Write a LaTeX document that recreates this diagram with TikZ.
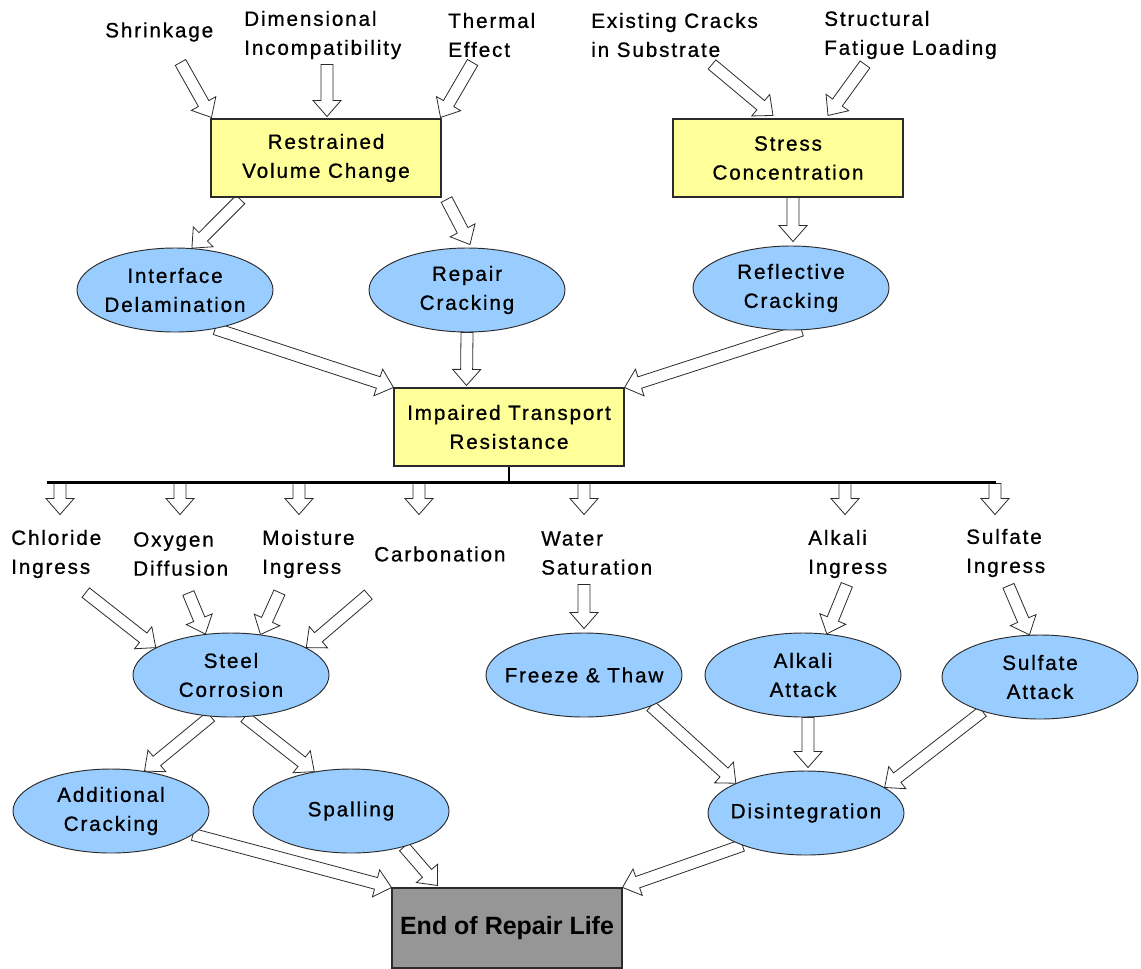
\documentclass[tikz,border=0pt]{standalone}
\usepackage{fontspec}
\setmainfont{Liberation Sans}[LetterSpace=9, FakeBold=0.8]
\newfontfamily\endfont{Liberation Sans}
\usetikzlibrary{positioning,calc,shapes.geometric}
\definecolor{boxYellow}{HTML}{FFFF99}
\definecolor{ellBlue}{HTML}{99CCFF}
\definecolor{endGray}{HTML}{969696}
\definecolor{lineInk}{HTML}{2B2B2B}
\pgfdeclarelayer{back}
\pgfsetlayers{back,main}

% hollow block arrow: tail, tip
\newcommand{\harrow}[2]{%
  \coordinate (ha-t) at #1;
  \coordinate (ha-p) at #2;
  \coordinate (ha-b) at ($(ha-p)!12pt!(ha-t)$);
  \draw[harrowline] ($(ha-t)!4.5pt!90:(ha-p)$) -- ($(ha-b)!4.5pt!90:(ha-p)$)
    -- ($(ha-b)!10.5pt!90:(ha-p)$) -- (ha-p) -- ($(ha-b)!10.5pt!-90:(ha-p)$)
    -- ($(ha-b)!4.5pt!-90:(ha-p)$) -- ($(ha-t)!4.5pt!-90:(ha-p)$) -- cycle;}

\begin{document}
\begin{tikzpicture}[x=0.75pt, y=-0.75pt,
          cause/.style={anchor=west, align=left, inner sep=0pt, font=\fontsize{15.5}{21.75}\selectfont},
          box/.style={draw=lineInk, line width=0.8pt, fill=boxYellow, minimum width=172.5pt, minimum height=58.5pt, align=center, font=\fontsize{15.5}{21.75}\selectfont, execute at begin node={\rule{0pt}{18pt}}},
          ell/.style={ellipse, draw=lineInk, line width=0.7pt, fill=ellBlue, minimum width=147pt, minimum height=63pt, inner xsep=-12pt, inner ysep=-6pt, align=center, font=\fontsize{15.5}{21.75}\selectfont},
          endbox/.style={draw=lineInk, line width=0.8pt, fill=endGray, minimum width=172.5pt, minimum height=60pt, font=\endfont\bfseries\fontsize{18.75}{22}\selectfont},
          harrowline/.style={draw=lineInk, fill=white, line width=0.6pt, line join=miter},
          bus/.style={draw=black, line width=2.2pt}]
        \useasboundingbox (0,0) rectangle (1141,968);
        % causes, top row
        \node[cause] (shr) at (105,32) {Shrinkage};
        \node[cause] (dim) at (244,35) {Dimensional\\Incompatibility};
        \node[cause] (thm) at (448,35) {Thermal\\Effect};
        \node[cause] (exc) at (591,35) {Existing Cracks\\in Substrate};
        \node[cause] (sfl) at (824,35) {Structural\\Fatigue Loading};
        \node[box] (rvc) at (326,158) {Restrained\\Volume Change};
        \node[box] (sc) at (788,158) {Stress\\Concentration};
        \node[ell] (il) at (175,290) {Interface\\Delamination};
        \node[ell] (rc) at (467,290) {Repair\\Cracking};
        \node[ell] (rfc) at (791,288) {Reflective\\Cracking};
        \node[box] (itr) at (509,427) {Impaired Transport\\Resistance};
        % causes, bottom row
        \node[cause] (chl) at (11,554) {Chloride\\Ingress};
        \node[cause] (oxy) at (133,554) {Oxygen\\Diffusion};
        \node[cause] (moi) at (262,554) {Moisture\\Ingress};
        \node[cause] (car) at (374,554) {Carbonation};
        \node[cause] (wat) at (541,553) {Water\\Saturation};
        \node[cause] (alk) at (808,554) {Alkali\\Ingress};
        \node[cause] (sul) at (966,553) {Sulfate\\Ingress};
        \node[ell] (stc) at (231,675) {Steel\\Corrosion};
        \node[ell] (ft) at (584,675) {Freeze \& Thaw};
        \node[ell] (aa) at (803,675) {Alkali\\Attack};
        \node[ell] (sa) at (1040,677) {Sulfate\\Attack};
        \node[ell] (ac) at (111,811) {Additional\\Cracking};
        \node[ell] (sp) at (351,811) {Spalling};
        \node[ell] (dis) at (806,813) {Disintegration};
        \node[endbox] (end) at (507,928) {End of Repair Life};
        \coordinate (bus) at ($(itr.south)+(0,16)$);
        \draw[line width=1.5pt] (itr.south) -- (bus);
        \draw[bus] (bus -| 47,0) -- (bus -| 996,0);
        \begin{pgfonlayer}{back}
        \harrow{($(rvc.north west)+(-30,-56)$)}{($(rvc.north west)+(1,-1)$)}
        \harrow{($(rvc.north)+(1,-54)$)}{($(rvc.north)+(1,-2)$)}
        \harrow{($(rvc.north east)+(31,-56)$)}{($(rvc.north east)+(-1,-1)$)}
        \harrow{($(sc.north)+(-76,-54)$)}{($(sc.north)+(-15,-3)$)}
        \harrow{($(sc.north)+(77,-54)$)}{($(sc.north)+(40,-3)$)}
        \harrow{($(rvc.south west)+(30,2)$)}{(il.68)}
        \harrow{($(rvc.south east)+(5,2)$)}{($(rc.north)+(3,-3)$)}
        \harrow{($(sc.south)+(5,0)$)}{($(rfc.north)+(2,-4)$)}
        \harrow{(il.-44)}{(itr.north west)}
        \harrow{(rc.south)}{($(itr.north west)+(73,-2)$)}
        \harrow{(rfc.-76)}{(itr.north east)}
        \foreach \bx in {60,180,299,419,584,845,995}
          \harrow{($(\bx,0 |- bus)+(0,1)$)}{($(\bx,0 |- bus)+(0,32)$)};
        \harrow{($(stc.160)+(-70,-55)$)}{(stc.160)}
        \harrow{($(stc.122)+(-17,-41)$)}{(stc.122)}
        \harrow{($(stc.54)+(19,-42)$)}{(stc.54)}
        \harrow{($(stc.20)+(62,-53)$)}{(stc.20)}
        \harrow{($(ft.north)+(0,-48)$)}{($(ft.north)+(0,-4)$)}
        \harrow{($(aa.60)+(20,-49)$)}{(aa.60)}
        \harrow{($(sa.104)+(-21,-49)$)}{(sa.104)}
        \harrow{(stc.-116)}{(ac.50)}
        \harrow{(stc.-72)}{(sp.133)}
        \harrow{(ft.-25)}{(dis.157)}
        \harrow{($(aa.south)+(5,0)$)}{($(dis.north)+(2,-3)$)}
        \harrow{(sa.-149)}{(dis.18)}
        \harrow{(ac.-16)}{(end.north west)}
        \harrow{(sp.-34)}{($(end.north west)+(46,-2)$)}
        \harrow{(dis.-153)}{(end.north east)}
        \end{pgfonlayer}
      \end{tikzpicture}
\end{document}
